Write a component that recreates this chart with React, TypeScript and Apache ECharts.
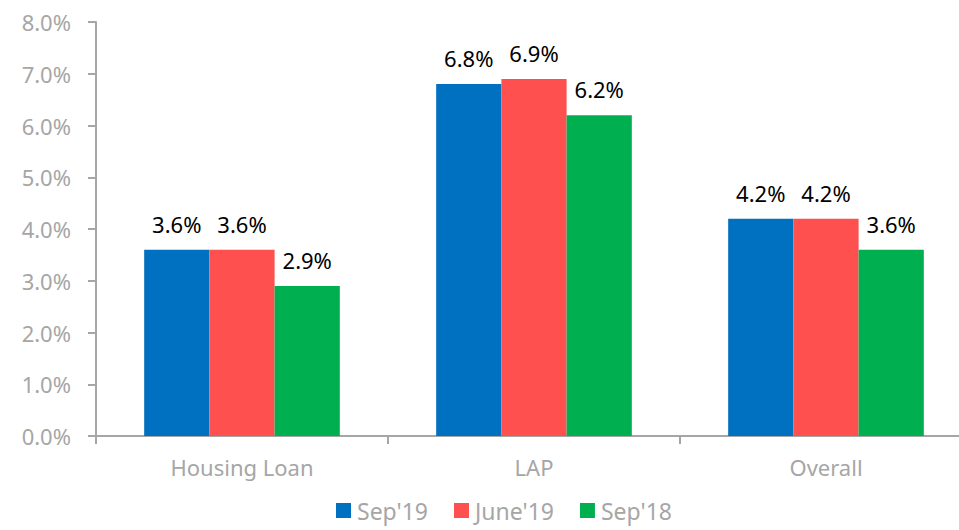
import React, { useEffect, useRef } from "react";
import * as echarts from "echarts";

const categories = ["Housing Loan", "LAP", "Overall"];
const seriesNames = ["Sep'19", "June'19", "Sep'18"];
const sep19 = [3.6, 6.8, 4.2];
const june19 = [3.6, 6.9, 4.2];
const sep18 = [2.9, 6.2, 3.6];
const colors = ["#0070C0", "#FF5050", "#00B050"];

export default function App() {
  const ref = useRef<HTMLDivElement>(null);
  useEffect(() => {
    const chart = echarts.init(ref.current!, null, { renderer: "svg" });
    const font = "'Noto Sans', 'Open Sans', sans-serif";
    const mk = (name: string, data: number[], i: number) => ({
      name,
      type: "bar",
      data,
      barGap: "0%",
      barCategoryGap: "33%",
      itemStyle: { color: colors[i] },
      label: {
        show: true,
        position: "top",
        distance: 15,
        color: "#000",
        fontSize: 22,
        fontFamily: font,
        formatter: (p: any) => p.value.toFixed(1) + "%",
      },
    });
    chart.setOption({
      animation: false,
      grid: { left: 96, top: 22, width: 876, height: 414, outerBoundsMode: "none" },
      legend: {
        bottom: 3,
        left: 331,
        itemWidth: 15,
        itemHeight: 15,
        itemGap: 26,
        icon: "rect",
        textStyle: { color: "#A6A6A6", fontSize: 23, fontFamily: font, padding: [0, 0, 0, 1] },
        data: seriesNames,
      },
      xAxis: {
        type: "category",
        data: categories,
        axisLine: { lineStyle: { color: "#A6A6A6", width: 2 } },
        axisTick: { show: true, length: 8, lineStyle: { color: "#A6A6A6", width: 2 } },
        axisLabel: { color: "#A6A6A6", fontSize: 22, fontFamily: font, margin: 20 },
      },
      yAxis: {
        type: "value",
        min: 0,
        max: 8,
        interval: 1,
        axisLine: { show: true, lineStyle: { color: "#A6A6A6", width: 2 } },
        axisTick: { show: true, length: 8, lineStyle: { color: "#A6A6A6", width: 2 } },
        splitLine: { show: false },
        axisLabel: {
          color: "#A6A6A6",
          fontSize: 22,
          fontFamily: font,
          margin: 25,
          formatter: (v: number) => v.toFixed(1) + "%",
        },
      },
      series: [mk(seriesNames[0], sep19, 0), mk(seriesNames[1], june19, 1), mk(seriesNames[2], sep18, 2)],
    });
    return () => chart.dispose();
  }, []);
  return (
    <div style={{ width: 959, height: 530, position: "absolute", left: 0, top: 0, overflow: "hidden" }}>
      <div ref={ref} style={{ width: 980, height: 530 }} />
    </div>
  );
}
